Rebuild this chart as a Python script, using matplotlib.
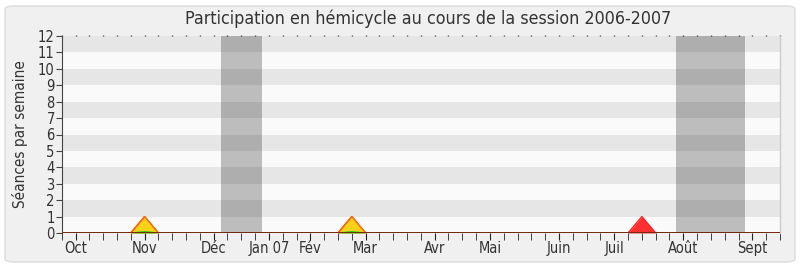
import matplotlib
matplotlib.use("Agg")
import matplotlib.pyplot as plt
from matplotlib.patches import FancyBboxPatch
import numpy as np

plt.rcParams["font.family"] = ["DejaVu Sans"]
plt.rcParams["font.stretch"] = "condensed"

# Weekly values for the 2006-2007 session (week index 0..52)
weeks = list(range(53))
presences = [0] * 53
participations = [0] * 53
mots = [0] * 53
for w in (6, 21, 42):
    presences[w] = 1
for w in (6, 21):
    participations[w] = 1
for w in (6, 21):
    mots[w] = 0.08

month_labels = ["Oct", "Nov", "Déc", "Jan 07", "Fév", "Mar", "Avr", "Mai", "Juin", "Juil", "Août", "Sept"]
month_weeks = [1, 6, 11, 15, 18, 22, 27, 31, 36, 40, 45, 50]

# Parliamentary recess periods (in weeks)
vacances = [(11.5, 14.5), (44.5, 49.5)]

y_max = 12

fig = plt.figure(figsize=(8, 2.67), dpi=100)
fig.patch.set_facecolor("white")
frame = FancyBboxPatch((5 / 800, 5 / 267), 790 / 800, 256 / 267,
                       boxstyle="round,pad=0,rounding_size=0.012",
                       transform=fig.transFigure, facecolor="#f0f0f0",
                       edgecolor="#dcdcdc", linewidth=1.0, zorder=-10)
fig.patches.append(frame)

ax = fig.add_axes([61.7 / 800, 34 / 267, (780 - 61.7) / 800, (233 - 36) / 267])
ax.set_facecolor("#fafafa")
ax.set_xlim(0, 52)
ax.set_ylim(0, y_max)

# Alternating horizontal bands
for y0 in range(1, y_max, 2):
    ax.axhspan(y0, y0 + 1, color="#e6e6e6", zorder=0, lw=0)

# Recess shading
for a, b in vacances:
    ax.axvspan(a, b, color="black", alpha=0.245, zorder=1, lw=0)

x = np.array(weeks)
ax.fill_between(x, presences, color="#ff3030", zorder=2, lw=0)
ax.plot(x, presences, color="#ff2020", lw=1.0, zorder=2)
ax.fill_between(x, participations, color="#ffd21a", zorder=3, lw=0)
ax.plot(x, participations, color="#ff6a00", lw=1.0, zorder=3)
ax.fill_between(x, mots, color="#33dd33", zorder=4, lw=0)
ax.plot(x, mots, color="#22cc22", lw=1.0, zorder=4)
ax.axhline(0, color="#7a1010", lw=1.2, zorder=5)

# Axes styling
for s in ("top", "bottom"):
    ax.spines[s].set_visible(False)
ax.spines["left"].set_color("#444444")
ax.spines["right"].set_color("#cccccc")
ax.spines["right"].set_linewidth(1.0)

ax.set_yticks(range(0, y_max + 1))
ax.tick_params(axis="y", direction="out", length=4, color="#444444",
               labelsize=10.5, labelcolor="#333333", pad=1)

ax.set_xticks(weeks, minor=True)
ax.set_xticks(month_weeks)
ax.set_xticklabels(month_labels)
ax.tick_params(axis="x", which="both", direction="out", length=5, color="#222222",
               labelsize=10.5, labelcolor="#333333", pad=0.5)

top = ax.secondary_xaxis("top")
top.set_xticks(weeks)
top.set_xticklabels([])
top.tick_params(direction="out", length=1.0, width=1.0, color="#333333")
top.spines["top"].set_visible(False)

ax.set_ylabel("Séances par semaine", fontsize=11, color="#333333", labelpad=7)
fig.text(428 / 800, 1 - 19 / 267, "Participation en hémicycle au cours de la session 2006-2007",
         ha="center", va="center", fontsize=12.8, color="#333333")

fig.savefig("out.png", dpi=100, facecolor=fig.get_facecolor())
